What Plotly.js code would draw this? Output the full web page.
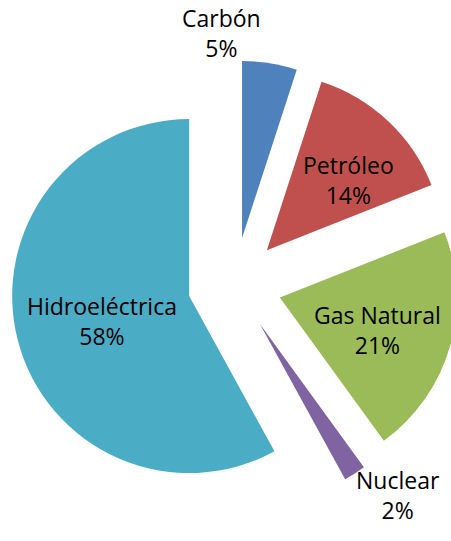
<!DOCTYPE html>
<html><head><meta charset="utf-8">
<script src="https://cdn.plot.ly/plotly-3.0.1.min.js"></script>
<style>html,body{margin:0;padding:0;overflow:hidden;background:#fff;} #chart{width:470px;height:541px;}</style>
</head><body><div id="chart"></div>
<script>
// Data
const categories = ['Carbón', 'Petróleo', 'Gas Natural', 'Nuclear', 'Hidroeléctrica'];
const shares = [5, 14, 21, 2, 58];

// Styles
const sliceColors = ['#4F81BD', '#C0504D', '#9BBB59', '#8064A2', '#4BACC6'];
const explode = 0.2655;
const W = 470, H = 541;
// label anchor points (pixels) for each category
const labelPx = [[221, 33], [348, 180], [377, 330], [398, 495], [102, 321]];

const trace = {
  type: 'pie',
  labels: categories,
  values: shares,
  sort: false,
  direction: 'clockwise',
  rotation: 0,
  pull: categories.map(() => explode),
  marker: {colors: sliceColors, line: {width: 0}},
  textinfo: 'none',
  hoverinfo: 'label+percent',
  showlegend: false,
  domain: {x: [0, 469.4 / W], y: [1 - 508.4 / H, 1 - 60.4 / H]}
};

const annotations = categories.map((c, i) => ({
  text: c + '<br>' + shares[i] + '%',
  x: labelPx[i][0] / W,
  y: 1 - labelPx[i][1] / H,
  xref: 'paper', yref: 'paper',
  xanchor: 'center', yanchor: 'middle',
  showarrow: false,
  font: {family: 'Open Sans, sans-serif', size: 23, color: '#000'}
}));

Plotly.newPlot('chart', [trace], {
  width: W, height: H,
  margin: {l: 0, r: 0, t: 0, b: 0},
  paper_bgcolor: '#fff',
  showlegend: false,
  annotations: annotations
}, {displayModeBar: false, staticPlot: true});
</script>
</body></html>
